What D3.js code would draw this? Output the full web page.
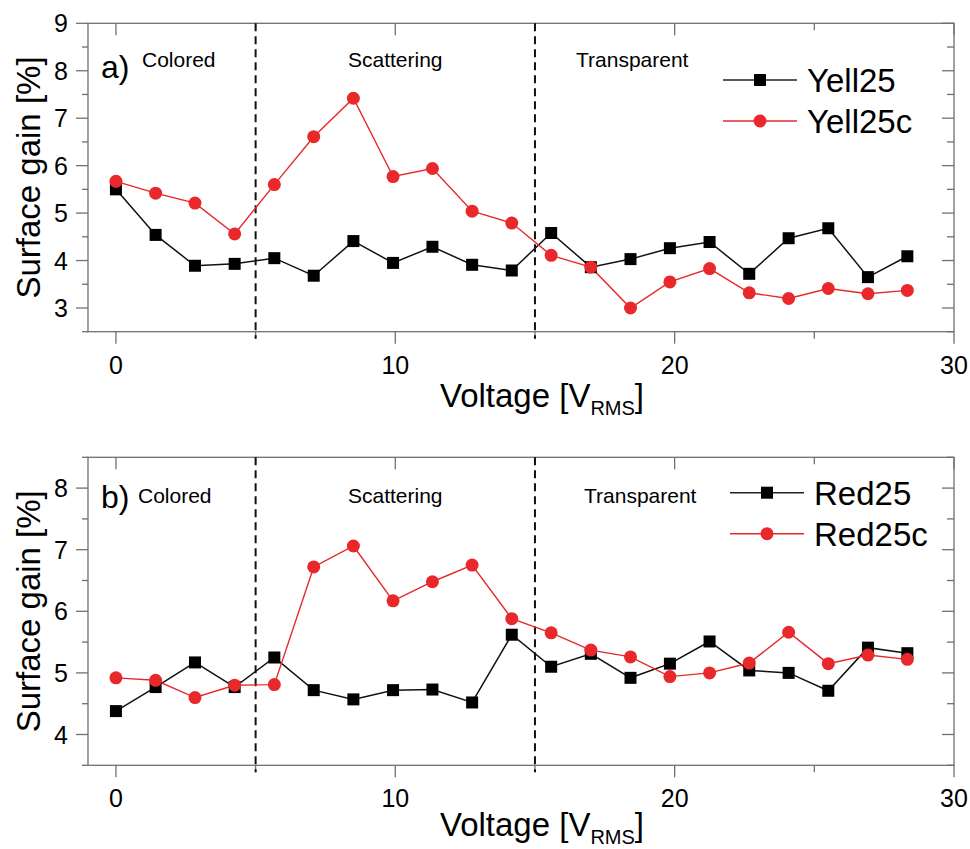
<!DOCTYPE html>
<html>
<head>
<meta charset="utf-8">
<script src="https://cdn.jsdelivr.net/npm/d3@7"></script>
<style>
  body { margin: 0; background: #fff; }
  text { font-family: "Liberation Sans", Arial, Helvetica, sans-serif; fill: #000; }
</style>
</head>
<body>
<div id="chart"></div>
<script>
// voltage steps (V_RMS)
const voltage = [0, 1.42, 2.83, 4.25, 5.67, 7.08, 8.5, 9.92, 11.33, 12.75, 14.17,
                 15.58, 17, 18.42, 19.83, 21.25, 22.67, 24.08, 25.5, 26.92, 28.33];

const yell25  = [5.5, 4.54, 3.89, 3.93, 4.05, 3.68, 4.41, 3.95, 4.29, 3.91, 3.79,
                 4.58, 3.86, 4.03, 4.26, 4.39, 3.72, 4.47, 4.68, 3.65, 4.09];
const yell25c = [5.67, 5.42, 5.21, 4.56, 5.6, 6.61, 7.42, 5.77, 5.94, 5.04, 4.79,
                 4.11, 3.86, 3.0, 3.55, 3.83, 3.32, 3.2, 3.41, 3.3, 3.37];

const red25   = [4.38, 4.77, 5.17, 4.77, 5.25, 4.72, 4.57, 4.72, 4.73, 4.52, 5.62,
                 5.1, 5.31, 4.92, 5.15, 5.51, 5.04, 5.0, 4.71, 5.41, 5.32];
const red25c  = [4.92, 4.88, 4.6, 4.8, 4.81, 6.72, 7.06, 6.17, 6.48, 6.75, 5.88,
                 5.65, 5.37, 5.26, 4.94, 5.0, 5.16, 5.66, 5.15, 5.29, 5.22];

const regions = ["Colored", "Scattering", "Transparent"];
const regionBounds = [5, 15];
const xTicks = [0, 10, 20, 30];

const W = 970, H = 849;
const left = 88, right = 954;
const frameColor = "#707070";
const black = "#000", red = "#e8282a";

const svg = d3.select("#chart").append("svg")
    .attr("width", W).attr("height", H);

const x = d3.scaleLinear().domain([-1, 30]).range([left, right]);

function panel(cfg) {
    const y = d3.scaleLinear().domain(cfg.yDomain).range([cfg.bottom, cfg.top]);
    const g = svg.append("g");

    // y ticks: left outward, right inward
    const yMinor = d3.range(cfg.yDomain[0], cfg.yDomain[1] + 0.01, 0.5);
    yMinor.forEach(v => {
        const major = Math.abs(v - Math.round(v)) < 1e-6;
        g.append("line").attr("x1", left - (major ? 12 : 6)).attr("x2", left)
            .attr("y1", y(v)).attr("y2", y(v))
            .attr("stroke", frameColor).attr("stroke-width", 1.3);
        g.append("line").attr("x1", right - (major ? 12 : 7)).attr("x2", right)
            .attr("y1", y(v)).attr("y2", y(v))
            .attr("stroke", frameColor).attr("stroke-width", 1.3);
        if (major) {
            g.append("text").attr("x", left - 20).attr("y", y(v))
                .attr("dy", "0.36em").attr("text-anchor", "end")
                .style("font-size", "25px").text(v);
        }
    });

    // x ticks: bottom outward, top inward
    d3.range(0, 31, 5).forEach(v => {
        const major = v % 10 === 0;
        g.append("line").attr("x1", x(v)).attr("x2", x(v))
            .attr("y1", cfg.bottom).attr("y2", cfg.bottom + (major ? 12 : 7))
            .attr("stroke", frameColor).attr("stroke-width", 1.3);
        g.append("line").attr("x1", x(v)).attr("x2", x(v))
            .attr("y1", cfg.top).attr("y2", cfg.top + (major ? 12 : 7))
            .attr("stroke", frameColor).attr("stroke-width", 1.3);
    });
    g.selectAll(".xl").data(xTicks).enter().append("text")
        .attr("x", d => x(d)).attr("y", cfg.bottom + 42)
        .attr("text-anchor", "middle").style("font-size", "25px")
        .text(d => d);

    // frame
    g.append("rect").attr("x", left).attr("y", cfg.top)
        .attr("width", right - left).attr("height", cfg.bottom - cfg.top)
        .attr("fill", "none").attr("stroke", frameColor).attr("stroke-width", 1.3);

    // region separators
    regionBounds.forEach(v => {
        g.append("line").attr("x1", x(v)).attr("x2", x(v))
            .attr("y1", cfg.top).attr("y2", cfg.bottom + 7)
            .attr("stroke", "#111").attr("stroke-width", 2)
            .attr("stroke-dasharray", "8,5");
    });

    // region labels
    regions.forEach((r, i) => {
        g.append("text").attr("x", cfg.regionX[i]).attr("y", cfg.top + cfg.regionDy)
            .attr("text-anchor", i === 1 ? "middle" : "start")
            .style("font-size", "21px").text(r);
    });
    g.append("text").attr("x", 101).attr("y", cfg.top + cfg.tagDy)
        .style("font-size", "32px").text(cfg.tag);

    // series
    const line = d3.line().x((d, i) => x(voltage[i])).y(d => y(d));
    g.append("path").datum(cfg.s1).attr("d", line)
        .attr("fill", "none").attr("stroke", "#111").attr("stroke-width", 1.5);
    g.append("path").datum(cfg.s2).attr("d", line)
        .attr("fill", "none").attr("stroke", red).attr("stroke-width", 1.4);

    g.selectAll(".sq").data(cfg.s1).enter().append("rect")
        .attr("x", (d, i) => x(voltage[i]) - 6).attr("y", d => y(d) - 6)
        .attr("width", 12).attr("height", 12).attr("fill", black);
    g.selectAll(".ci").data(cfg.s2).enter().append("circle")
        .attr("cx", (d, i) => x(voltage[i])).attr("cy", d => y(d))
        .attr("r", 6.5).attr("fill", red);

    // legend
    const lg = g.append("g");
    [[cfg.names[0], "#222", "sq"], [cfg.names[1], red, "ci"]].forEach((e, i) => {
        const ly = cfg.legY + i * 41;
        lg.append("line").attr("x1", cfg.legX).attr("x2", cfg.legX + 74)
            .attr("y1", ly).attr("y2", ly).attr("stroke", e[1]).attr("stroke-width", 1.4);
        const cx = cfg.legX + 37;
        if (e[2] === "sq") {
            lg.append("rect").attr("x", cx - 6).attr("y", ly - 6)
                .attr("width", 12).attr("height", 12).attr("fill", black);
        } else {
            lg.append("circle").attr("cx", cx).attr("cy", ly).attr("r", 6.5).attr("fill", red);
        }
        lg.append("text").attr("x", cfg.legX + 84).attr("y", ly + 12)
            .style("font-size", "33px").text(e[0]);
    });

    // axis titles
    const cy = (cfg.top + cfg.bottom) / 2;
    g.append("text").attr("transform", `translate(40,${cy}) rotate(-90)`)
        .attr("text-anchor", "middle").style("font-size", "33px")
        .text("Surface gain [%]");
    const xt = g.append("text").attr("x", 542).attr("y", cfg.bottom + cfg.titleDy)
        .attr("text-anchor", "middle").style("font-size", "33px");
    xt.append("tspan").text("Voltage [V");
    xt.append("tspan").attr("dy", 8).style("font-size", "20px").text("RMS");
    xt.append("tspan").attr("dy", -8).text("]");
}

panel({
    top: 23.3, bottom: 331.7, yDomain: [2.5, 9],
    s1: yell25, s2: yell25c, names: ["Yell25", "Yell25c"],
    tag: "a)", tagDy: 55, regionDy: 44, regionX: [142, x(10), 576],
    legX: 723, legY: 80, titleDy: 75
});

panel({
    top: 457.3, bottom: 765.3, yDomain: [3.5, 8.5],
    s1: red25, s2: red25c, names: ["Red25", "Red25c"],
    tag: "b)", tagDy: 51, regionDy: 46, regionX: [138, x(10), 584],
    legX: 730, legY: 492.7, titleDy: 71
});
</script>
</body>
</html>
